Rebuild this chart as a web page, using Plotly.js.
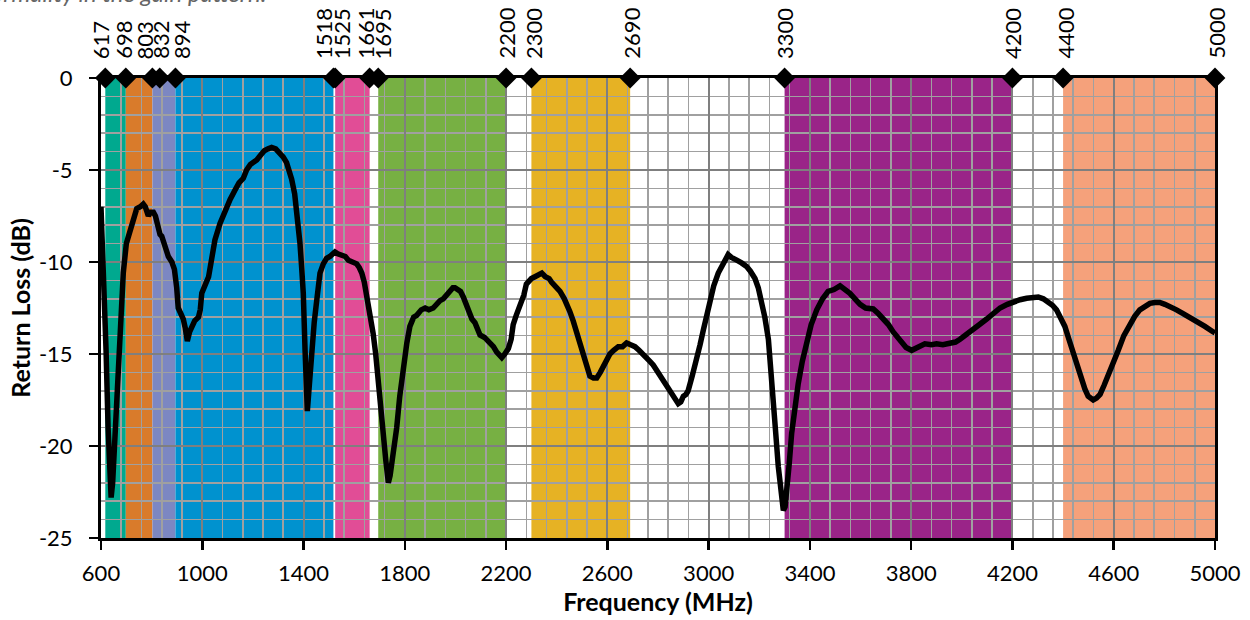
<!DOCTYPE html>
<html><head><meta charset="utf-8">
<script src="https://cdn.plot.ly/plotly-3.0.1.min.js"></script>
<style>html,body{margin:0;padding:0;background:#fff;} #chart{width:1250px;height:620px;}</style>
</head><body><div id="chart"></div>
<script>
const freq = [600,605,612,620,628,635,640,646,655,665,675,688,700,710,720,730,741,755,767,775,782,787,795,807,815,820,826,833,840,853,866,880,890,899,905,915,925,933,941,950,958,970,985,992,998,1011,1025,1035,1050,1070,1085,1096,1110,1129,1145,1162,1175,1190,1215,1230,1245,1260,1274,1290,1307,1320,1333,1345,1353,1365,1373,1380,1386,1393,1399,1406,1411,1415,1420,1426,1432,1442,1452,1465,1478,1491,1504,1515,1524,1535,1551,1565,1577,1595,1610,1620,1630,1640,1649,1660,1675,1685,1695,1705,1715,1725,1735,1742,1750,1758,1768,1780,1794,1808,1820,1835,1847,1865,1880,1895,1912,1925,1939,1952,1965,1980,1990,1998,2010,2020,2031,2041,2051,2065,2077,2084,2097,2115,2130,2140,2150,2163,2175,2183,2195,2209,2220,2228,2240,2255,2270,2280,2290,2300,2314,2330,2341,2355,2370,2380,2395,2413,2430,2445,2452,2465,2479,2492,2505,2518,2531,2545,2558,2572,2584,2597,2610,2625,2643,2660,2676,2692,2709,2725,2742,2755,2768,2781,2795,2808,2821,2835,2847,2860,2870,2880,2890,2900,2910,2919,2935,2953,2966,2979,2992,3005,3020,3038,3055,3068,3077,3090,3100,3111,3130,3150,3165,3183,3196,3209,3222,3236,3246,3255,3265,3275,3285,3295,3302,3308,3318,3328,3340,3354,3370,3387,3405,3427,3450,3472,3495,3519,3540,3558,3578,3598,3620,3650,3670,3690,3710,3729,3745,3762,3780,3802,3820,3840,3854,3880,3900,3925,3953,3975,3993,4020,4045,4070,4098,4125,4151,4180,4203,4230,4256,4280,4302,4322,4341,4358,4374,4390,4407,4423,4440,4457,4473,4486,4499,4510,4519,4532,4546,4562,4578,4598,4618,4640,4664,4683,4703,4722,4743,4762,4782,4802,4822,4848,4874,4900,4927,4960,4993,5000];
const returnLoss = [-7.0,-8.6,-11.2,-14.8,-19.0,-21.8,-22.8,-22.0,-19.6,-16.4,-13.6,-10.6,-9.0,-8.5,-7.9,-7.4,-7.1,-7.0,-6.85,-7.0,-7.4,-7.5,-7.3,-7.3,-7.5,-7.8,-8.4,-8.5,-8.6,-9.2,-9.7,-10.0,-10.4,-11.4,-12.5,-12.8,-13.1,-13.6,-14.3,-13.8,-13.5,-13.2,-13.0,-12.6,-11.7,-11.2,-10.8,-10.0,-8.8,-7.9,-7.4,-7.0,-6.6,-6.1,-5.7,-5.45,-5.0,-4.7,-4.45,-4.2,-3.95,-3.85,-3.77,-3.85,-4.1,-4.3,-4.6,-5.1,-5.5,-6.3,-7.2,-8.0,-9.0,-10.4,-11.7,-14.8,-16.8,-18.1,-17.2,-15.9,-14.8,-13.3,-12.1,-10.6,-10.1,-9.8,-9.7,-9.6,-9.45,-9.55,-9.6,-9.7,-9.9,-10.0,-10.1,-10.3,-10.6,-11.1,-11.8,-12.6,-13.9,-15.0,-16.6,-18.0,-19.3,-20.8,-22.0,-21.6,-20.8,-20.1,-19.0,-17.3,-15.7,-14.4,-13.5,-13.0,-12.9,-12.6,-12.5,-12.6,-12.5,-12.3,-12.1,-12.0,-11.8,-11.6,-11.4,-11.4,-11.5,-11.6,-11.9,-12.3,-12.7,-13.1,-13.3,-13.6,-13.97,-14.1,-14.3,-14.4,-14.6,-14.9,-15.1,-15.2,-15.0,-14.7,-14.2,-13.4,-12.9,-12.4,-11.8,-11.2,-11.0,-10.9,-10.8,-10.7,-10.6,-10.8,-10.9,-11.1,-11.3,-11.6,-12.0,-12.4,-12.7,-13.2,-13.8,-14.5,-15.1,-15.7,-16.2,-16.3,-16.3,-16.0,-15.7,-15.3,-15.0,-14.8,-14.6,-14.6,-14.4,-14.5,-14.6,-14.8,-15.0,-15.2,-15.4,-15.6,-15.9,-16.1,-16.4,-16.7,-17.0,-17.2,-17.5,-17.7,-17.6,-17.3,-17.2,-17.0,-16.2,-15.3,-14.5,-13.7,-12.9,-12.1,-11.3,-10.6,-10.1,-9.75,-9.6,-9.75,-9.85,-9.9,-10.05,-10.25,-10.5,-10.9,-11.4,-12.1,-13.0,-14.2,-15.7,-17.5,-19.3,-21.1,-22.6,-23.5,-23.3,-22.6,-21.0,-19.3,-17.8,-16.6,-15.4,-14.4,-13.4,-12.6,-12.0,-11.6,-11.5,-11.3,-11.5,-11.7,-12.0,-12.3,-12.5,-12.55,-12.8,-13.1,-13.4,-13.8,-14.1,-14.4,-14.65,-14.8,-14.7,-14.55,-14.45,-14.5,-14.45,-14.5,-14.4,-14.35,-14.2,-13.95,-13.7,-13.4,-13.1,-12.8,-12.5,-12.3,-12.15,-12.05,-11.97,-11.95,-11.9,-12.0,-12.15,-12.35,-12.6,-13.0,-13.5,-14.2,-15.0,-15.7,-16.4,-16.9,-17.3,-17.45,-17.5,-17.4,-17.2,-16.7,-16.2,-15.5,-14.8,-14.0,-13.4,-12.95,-12.6,-12.4,-12.25,-12.2,-12.2,-12.3,-12.4,-12.6,-12.8,-13.0,-13.2,-13.5,-13.8,-13.85];

const markerFreqs = [617,698,803,832,894,1518,1525,1661,1695,2200,2300,2690,3300,4200,4400,5000];
const markerLabels = ['617','698','803','832','894','1518','1525','1661','1695','2200','2300','2690','3300','4200','4400','5000'];
const markerLevel = [0,0,0,0,0,0,0,0,0,0,0,0,0,0,0,0];
// horizontal nudges (px) of the labels so close ones do not overlap, as in the original
const labelNudge = [-5,-3,-8,0,6,-10,6.5,-4.5,4.7,0,2,1,0,0,2,1];

const bandStart = [617,698,803,894,1525,1695,2300,3300,4400];
const bandEnd   = [698,803,894,1518,1661,2200,2690,4200,5000];
const bandColors = ['#00A98F','#D97B2B','#7C87C2','#0092CF','#E14D96','#77B043','#E6B224','#9A2488','#F5A17B'];

const xTickVals = [600,1000,1400,1800,2200,2600,3000,3400,3800,4200,4600,5000];
const xTickText = ['600','1000','1400','1800','2200','2600','3000','3400','3800','4200','4600','5000'];
const yTickVals = [-25,-20,-15,-10,-5,0];
const yTickText = ['-25','-20','-15','-10','-5','0'];

const headerText = 'normality in the gain pattern.';

const FONT = 'Lato, sans-serif';

const shapes = bandStart.map((s, i) => ({
  type: 'rect', xref: 'x', yref: 'y', x0: s, x1: bandEnd[i], y0: -25, y1: 0,
  fillcolor: bandColors[i], line: {width: 0}, layer: 'below'
}));

const traces = [
  {x: freq, y: returnLoss, type: 'scatter', mode: 'lines',
   line: {color: '#000', width: 5.5}, hoverinfo: 'skip'},
  {x: markerFreqs, y: markerLevel, type: 'scatter', mode: 'markers',
   marker: {symbol: 'diamond', size: 16, color: '#000'}, cliponaxis: false, hoverinfo: 'skip'}
];

const labelAnnotations = markerFreqs.map((f, i) => ({
  text: markerLabels[i], xref: 'x', yref: 'y', x: f, y: markerLevel[i],
  textangle: -90, xanchor: 'center', yanchor: 'bottom', yshift: 18, xshift: labelNudge[i],
  showarrow: false, borderpad: 0,
  font: {family: FONT, size: 22, color: '#000'}
}));

const tickFont = {family: FONT, size: 22, color: '#000'};
const layout = {
  width: 1250, height: 620,
  margin: {l: 101, r: 35, t: 78, b: 82, pad: 0},
  paper_bgcolor: '#fff', plot_bgcolor: '#fff',
  showlegend: false,
  shapes: shapes,
  xaxis: {
    range: [600, 5000], tickmode: 'array', tickvals: xTickVals, ticktext: xTickText,
    ticks: 'outside', ticklen: 9, tickwidth: 2.5, tickcolor: '#000', ticklabelstandoff: 5,
    showline: true, linecolor: '#000', linewidth: 3, mirror: true,
    showgrid: true, gridcolor: '#7f7f7f', gridwidth: 2, zeroline: false,
    minor: {tickmode: 'linear', tick0: 600, dtick: 80, showgrid: true, gridcolor: '#a0a0a0', gridwidth: 1.6, ticks: ''},
    tickfont: tickFont,
    title: {text: 'Frequency (MHz)', font: {family: FONT, size: 25, weight: 'bold', color: '#000'}, standoff: 4}
  },
  yaxis: {
    range: [-25, 0], tickmode: 'array', tickvals: yTickVals, ticktext: yTickText,
    ticks: 'outside', ticklen: 9, tickwidth: 2.5, tickcolor: '#000', ticklabelstandoff: 12,
    showline: true, linecolor: '#000', linewidth: 3, mirror: true,
    showgrid: true, gridcolor: '#7f7f7f', gridwidth: 2, zeroline: false,
    minor: {tickmode: 'linear', tick0: 0, dtick: 1, showgrid: true, gridcolor: '#a0a0a0', gridwidth: 1.6, ticks: ''},
    tickfont: tickFont,
    title: {text: 'Return Loss (dB)', font: {family: FONT, size: 25, weight: 'bold', color: '#000'}, standoff: 2}
  },
  annotations: labelAnnotations.concat([{
    text: headerText, xref: 'paper', yref: 'paper', x: 0.149, y: 1.152,
    xanchor: 'right', yanchor: 'bottom', showarrow: false, borderpad: 0,
    font: {family: FONT, size: 24, color: '#666', style: 'italic'}
  }])
};

Plotly.newPlot('chart', traces, layout, {displayModeBar: false, staticPlot: true});
</script>
</body></html>
